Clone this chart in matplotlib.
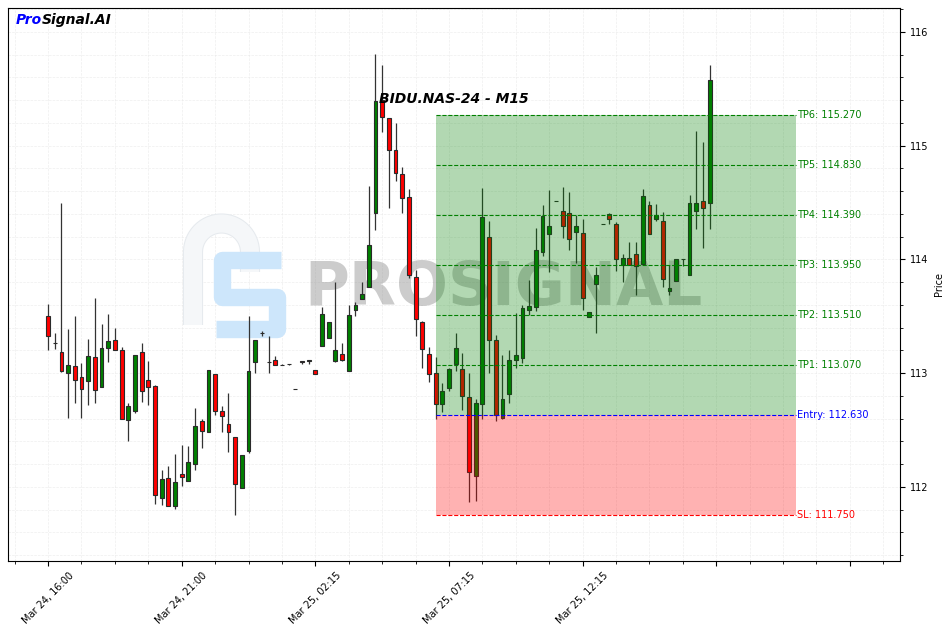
import numpy as np
import matplotlib
matplotlib.use('Agg')
import matplotlib.pyplot as plt
import matplotlib.patheffects as pe
from matplotlib.ticker import FixedLocator, MultipleLocator

# M15 candles, BIDU.NAS-24
opens = [113.50, 113.27, 113.19, 113.00, 113.06, 112.97, 112.93, 113.14, 112.88, 113.22,
         113.29, 113.20, 112.59, 112.67, 113.19, 112.94, 112.89, 111.90, 112.08, 111.83,
         112.11, 112.05, 112.20, 112.58, 112.48, 112.99, 112.67, 112.55, 112.44, 111.99,
         112.32, 113.10, 113.35, 113.10, 113.12, 113.075, 113.08, 112.86, 113.11, 113.11,
         113.03, 113.24, 113.31, 113.11, 113.17, 113.02, 113.56, 113.65, 113.76, 114.41,
         115.40, 115.24, 114.96, 114.75, 114.55, 113.85, 113.45, 113.17, 113.00, 112.73,
         112.87, 113.08, 113.04, 112.79, 112.10, 112.73, 114.20, 113.29, 112.61, 112.82,
         113.12, 113.13, 113.56, 113.58, 114.07, 114.22, 114.51, 114.43, 114.41, 114.24,
         114.23, 113.49, 113.78, 114.31, 114.40, 114.31, 113.95, 114.01, 114.05, 113.96,
         114.48, 114.36, 114.34, 113.72, 113.81, 114.00, 113.86, 114.43, 114.51, 114.50]
highs = [113.61, 113.35, 114.50, 113.39, 113.50, 113.09, 113.30, 113.66, 113.43, 113.52,
         113.40, 113.23, 112.74, 113.16, 113.27, 113.11, 112.90, 112.15, 112.18, 112.29,
         112.37, 112.36, 112.69, 112.60, 113.03, 112.99, 112.71, 112.83, 112.44, 112.28,
         113.50, 113.29, 113.37, 113.33, 113.15, 113.08, 113.085, 112.86, 113.11, 113.12,
         113.03, 113.58, 113.45, 113.80, 113.27, 113.60, 113.63, 113.80, 114.65, 115.81,
         115.71, 115.24, 115.20, 114.81, 114.62, 113.91, 113.46, 113.23, 113.14, 112.91,
         113.05, 113.35, 113.18, 113.00, 112.77, 114.63, 114.34, 113.34, 113.16, 113.20,
         113.53, 113.60, 113.82, 114.28, 114.48, 114.61, 114.51, 114.64, 114.59, 114.39,
         114.36, 113.54, 113.93, 114.31, 114.41, 114.33, 114.05, 114.15, 114.15, 114.62,
         114.51, 114.49, 114.42, 113.95, 114.00, 114.00, 114.57, 115.13, 115.03, 115.71]
lows = [113.20, 113.21, 113.01, 112.61, 112.74, 112.61, 112.72, 112.74, 112.88, 113.10,
        113.20, 112.60, 112.40, 112.65, 112.75, 112.72, 111.85, 111.84, 111.83, 111.81,
        112.01, 112.05, 112.15, 112.34, 112.48, 112.63, 112.48, 112.31, 111.75, 111.99,
        112.30, 113.00, 113.33, 113.00, 113.07, 113.07, 113.075, 112.86, 113.08, 113.08,
        112.99, 113.24, 113.31, 113.10, 113.11, 113.02, 113.50, 113.65, 113.76, 114.26,
        115.12, 114.45, 114.69, 114.41, 113.84, 113.33, 113.05, 112.92, 112.60, 112.66,
        112.84, 113.02, 112.68, 111.87, 111.88, 112.60, 113.00, 112.58, 112.60, 112.74,
        113.05, 113.09, 113.51, 113.55, 114.03, 113.89, 114.51, 114.19, 114.08, 113.97,
        113.56, 113.49, 113.35, 114.31, 114.31, 113.90, 113.80, 113.95, 113.69, 113.96,
        114.22, 114.34, 113.76, 113.69, 113.81, 113.94, 113.86, 114.27, 114.10, 114.27]
closes = [113.33, 113.27, 113.02, 113.07, 112.94, 112.86, 113.15, 112.85, 113.22, 113.28,
          113.20, 112.60, 112.71, 113.16, 112.84, 112.88, 111.93, 112.07, 111.83, 112.04,
          112.09, 112.22, 112.54, 112.49, 113.03, 112.67, 112.62, 112.48, 112.03, 112.28,
          113.02, 113.29, 113.35, 113.10, 113.07, 113.07, 113.08, 112.86, 113.10, 113.12,
          112.99, 113.52, 113.45, 113.20, 113.12, 113.51, 113.60, 113.70, 114.13, 115.39,
          115.25, 114.96, 114.76, 114.54, 113.86, 113.48, 113.21, 112.99, 112.73, 112.84,
          113.04, 113.22, 112.80, 112.13, 112.74, 114.37, 113.29, 112.63, 112.77, 113.12,
          113.16, 113.57, 113.59, 114.08, 114.38, 114.29, 114.51, 114.29, 114.18, 114.29,
          113.66, 113.54, 113.86, 114.31, 114.36, 114.00, 114.01, 113.95, 113.94, 114.56,
          114.22, 114.39, 113.83, 113.75, 114.00, 114.00, 114.50, 114.50, 114.45, 115.58]

tick_pos = [0, 20, 40, 60, 80, 100, 120]
tick_labels = ['Mar 24, 16:00', 'Mar 24, 21:00', 'Mar 25, 02:15',
               'Mar 25, 07:15', 'Mar 25, 12:15', '', '']

# trade setup
entry = 112.63
sl = 111.75
tps = [113.07, 113.51, 113.95, 114.39, 114.83, 115.27]
zone_start, zone_end = 58, 112

fig = plt.figure(figsize=(9.47, 6.32), dpi=100)
ax = fig.add_axes([8 / 947, 1 - 561 / 632, 892 / 947, 553 / 632])

x = np.arange(len(opens))
o = np.array(opens)
c = np.array(closes)
up = c >= o
colors = np.where(up, 'green', 'red')

# candles
ax.vlines(x, lows, highs, color='#333333', linewidth=0.9, zorder=2)
ax.bar(x, np.abs(c - o), bottom=np.minimum(o, c), width=0.58, color=colors,
       edgecolor='#2a2a2a', linewidth=0.8, zorder=3)

# zones drawn over the candles
ax.fill_between([zone_start, zone_end], entry, max(tps), color='green',
                alpha=0.3, linewidth=0, zorder=4)
ax.fill_between([zone_start, zone_end], sl, entry, color='red',
                alpha=0.3, linewidth=0, zorder=4)

for i, tp in enumerate(tps):
    ax.hlines(tp, zone_start, zone_end, colors='green', linestyles='--',
              linewidth=0.8, zorder=5)
    ax.text(zone_end + 0.1, tp, f'TP{i + 1}: {tp:.3f}', color='green',
            fontsize=7, va='center', ha='left', zorder=6)
ax.hlines(entry, zone_start, zone_end, colors='blue', linestyles='--',
          linewidth=0.8, zorder=5)
ax.text(zone_end + 0.1, entry, f'Entry: {entry:.3f}', color='blue',
        fontsize=7, va='center', ha='left', zorder=6)
ax.hlines(sl, zone_start, zone_end, colors='red', linestyles='--',
          linewidth=0.8, zorder=5)
ax.text(zone_end + 0.1, sl, f'SL: {sl:.3f}', color='red',
        fontsize=7, va='center', ha='left', zorder=6)

# watermark
ax.text(0.555, 0.463, 'PROSIGNAL', transform=ax.transAxes, fontsize=44,
        fontweight='bold', color='grey', alpha=0.4, ha='center',
        va='baseline', zorder=1)


def fpx(xs, ys):
    return np.array(xs) / 947, 1 - np.array(ys) / 632


# logo: pale "P" arch and light blue "S"
ang = np.linspace(np.pi, 0, 30)
p_x = [193, 193] + list(221.5 + 28.5 * np.cos(ang)) + [250]
p_y = [325, 252] + list(252 - 28.5 * np.sin(ang)) + [272]
lx, ly = fpx(p_x, p_y)
ax.plot(lx, ly, transform=fig.transFigure, color='#f5f7f9', linewidth=13,
        solid_capstyle='butt', zorder=1,
        path_effects=[pe.Stroke(linewidth=14.5, foreground='#e6eaee'), pe.Normal()])
sx, sy = fpx([281, 222, 222, 277, 277, 216], [260, 260, 297, 297, 329, 329])
ax.plot(sx, sy, transform=fig.transFigure, color='#cde6fb', linewidth=12.5,
        solid_joinstyle='round', solid_capstyle='butt', zorder=1.1)

# titles
ax.text(0.5, 0.836, 'BIDU.NAS-24 - M15', transform=ax.transAxes, fontsize=10,
        fontweight='bold', fontstyle='italic', ha='center', va='center', zorder=7)
t1 = ax.text(0.009, 0.979, 'Pro', transform=ax.transAxes, fontsize=10,
             fontweight='bold', fontstyle='italic', color='blue', va='center')
fig.canvas.draw()
bb = t1.get_window_extent().transformed(ax.transAxes.inverted())
ax.text(bb.x1, 0.979, 'Signal.AI', transform=ax.transAxes, fontsize=10,
        fontweight='bold', fontstyle='italic', color='black', va='center')

# axes
ax.set_xlim(-6, 127.5)
ax.set_ylim(111.349, 116.211)
ax.xaxis.set_major_locator(FixedLocator(tick_pos))
ax.set_xticklabels(tick_labels, rotation=45, fontsize=7)
ax.xaxis.set_minor_locator(MultipleLocator(5))
ax.yaxis.set_major_locator(MultipleLocator(1))
ax.yaxis.set_minor_locator(MultipleLocator(0.2))
ax.yaxis.tick_right()
ax.yaxis.set_label_position('right')
ax.set_ylabel('Price', fontsize=7)
ax.tick_params(axis='both', labelsize=7)
ax.grid(which='both', linestyle='--', color='#e4e4e4', linewidth=0.5, alpha=0.6)
ax.set_axisbelow(True)

fig.savefig('out.png', dpi=100)
